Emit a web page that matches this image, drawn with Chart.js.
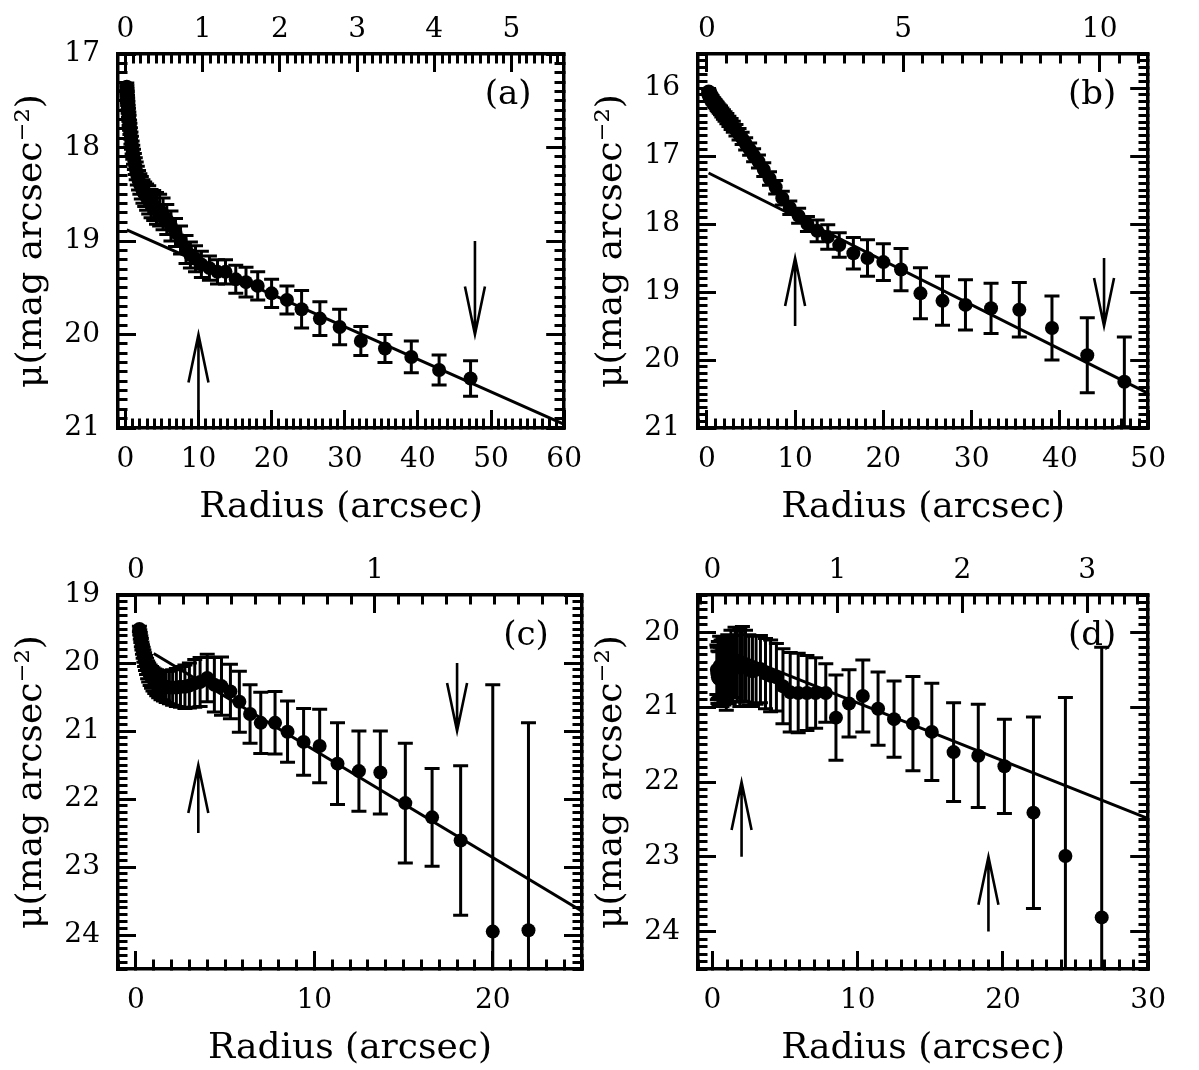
<!DOCTYPE html>
<html>
<head>
<meta charset="utf-8">
<script src="https://cdn.jsdelivr.net/npm/chart.js@4.4.0/dist/chart.umd.min.js"></script>
<style>
  body { margin: 0; background: #fff; width: 1199px; height: 1070px; position: relative; overflow: hidden; }
  canvas { position: absolute; }
</style>
</head>
<body>
<canvas id="pa" width="615" height="529" style="left:0;top:0"></canvas>
<canvas id="pb" width="619" height="529" style="left:580px;top:0"></canvas>
<canvas id="pc" width="615" height="529" style="left:0;top:541px"></canvas>
<canvas id="pd" width="619" height="529" style="left:580px;top:541px"></canvas>
<script>
/* ── panel (a) ── */
const aRadius = [0.2, 0.22, 0.24, 0.27, 0.3, 0.32, 0.36, 0.39, 0.43, 0.48, 0.52, 0.58, 0.63, 0.7, 0.77,
  0.84, 0.93, 1.02, 1.12, 1.24, 1.36, 1.49, 1.64, 1.81, 1.99, 2.19, 2.41, 2.65, 2.91, 3.2,
  3.52, 3.88, 4.26, 4.69, 5.16, 5.67, 6.24, 6.86, 7.55, 8.3, 8.9, 9.6, 10.4, 11.5, 12.6,
  13.7, 15.1, 16.5, 18.1, 20.0, 22.1, 24.1, 26.6, 29.3, 32.2, 35.5, 39.1, 42.9, 47.2];
const aMu = [17.35, 17.38, 17.41, 17.44, 17.48, 17.51, 17.55, 17.59, 17.63, 17.67, 17.71, 17.76, 17.8, 17.85, 17.9,
  17.95, 18.0, 18.05, 18.1, 18.15, 18.2, 18.25, 18.3, 18.35, 18.39, 18.43, 18.47, 18.5, 18.53, 18.56,
  18.6, 18.62, 18.65, 18.67, 18.71, 18.77, 18.84, 18.91, 18.99, 19.09, 19.15, 19.19, 19.25, 19.29, 19.33,
  19.33, 19.41, 19.44, 19.48, 19.56, 19.63, 19.73, 19.83, 19.92, 20.07, 20.15, 20.24, 20.38, 20.47];
const aErr = [0.04, 0.04, 0.04, 0.04, 0.04, 0.04, 0.045, 0.045, 0.05, 0.05, 0.055, 0.055, 0.06, 0.06, 0.065,
  0.07, 0.07, 0.075, 0.08, 0.085, 0.09, 0.095, 0.1, 0.105, 0.11, 0.12, 0.125, 0.13, 0.14, 0.15,
  0.15, 0.16, 0.17, 0.17, 0.17, 0.16, 0.16, 0.15, 0.15, 0.15, 0.14, 0.14, 0.14, 0.13, 0.13,
  0.13, 0.15, 0.16, 0.15, 0.15, 0.15, 0.2, 0.18, 0.19, 0.155, 0.15, 0.17, 0.16, 0.19];
const aFitR = [0.2, 60];
const aFitMu = [18.88, 20.96];
const aArrowR = [10, 47.8];
const aArrowFrom = [21, 19];
const aArrowTo = [20, 20];
const aRadTicks = [0, 10, 20, 30, 40, 50, 60];
const aKpcTicks = [0, 1, 2, 3, 4, 5];
const aMuTicks = [17, 18, 19, 20, 21];

/* ── panel (b) ── */
const bRadius = [0.21, 0.23, 0.25, 0.28, 0.31, 0.34, 0.37, 0.41, 0.45, 0.49, 0.54, 0.6, 0.66, 0.72, 0.8,
  0.88, 0.96, 1.06, 1.17, 1.28, 1.41, 1.55, 1.7, 1.88, 2.06, 2.27, 2.5, 2.75, 3.0, 3.3,
  3.65, 4.0, 4.4, 4.85, 5.3, 5.85, 6.45, 7.1, 7.8, 8.55, 9.4, 10.4, 11.4, 12.5, 13.7,
  15.0, 16.6, 18.2, 20.0, 22.0, 24.2, 26.7, 29.3, 32.2, 35.4, 39.1, 43.1, 47.3];
const bMu = [16.05, 16.06, 16.07, 16.08, 16.09, 16.1, 16.11, 16.12, 16.13, 16.14, 16.15, 16.16, 16.18, 16.19, 16.2,
  16.22, 16.23, 16.25, 16.27, 16.29, 16.31, 16.33, 16.36, 16.39, 16.42, 16.45, 16.49, 16.53, 16.57, 16.62,
  16.68, 16.74, 16.82, 16.9, 16.99, 17.08, 17.2, 17.33, 17.46, 17.62, 17.76, 17.88, 18.0, 18.1, 18.19,
  18.31, 18.43, 18.5, 18.56, 18.67, 19.02, 19.13, 19.19, 19.24, 19.26, 19.53, 19.93, 20.32];
const bErr = [0.03, 0.03, 0.03, 0.03, 0.03, 0.03, 0.035, 0.035, 0.04, 0.04, 0.04, 0.045, 0.045, 0.05, 0.05,
  0.05, 0.055, 0.055, 0.06, 0.06, 0.06, 0.065, 0.065, 0.07, 0.07, 0.075, 0.075, 0.08, 0.08, 0.085,
  0.085, 0.09, 0.09, 0.09, 0.095, 0.095, 0.1, 0.1, 0.1, 0.1, 0.1, 0.11, 0.11, 0.16, 0.18,
  0.18, 0.23, 0.27, 0.27, 0.31, 0.375, 0.36, 0.37, 0.37, 0.4, 0.47, 0.55, 0.66];
const bFitR = [0.2, 50];
const bFitMu = [17.25, 20.49];
const bArrowR = [10, 45];
const bArrowFrom = [19.5, 18.5];
const bArrowTo = [18.5, 19.5];
const bRadTicks = [0, 10, 20, 30, 40, 50];
const bKpcTicks = [0, 5, 10];
const bMuTicks = [16, 17, 18, 19, 20, 21];

/* ── panel (c) ── */
const cRadius = [0.2, 0.22, 0.25, 0.28, 0.31, 0.34, 0.37, 0.41, 0.45, 0.49, 0.54, 0.6, 0.66, 0.72, 0.8,
  0.88, 0.96, 1.06, 1.17, 1.28, 1.41, 1.55, 1.7, 1.88, 2.06, 2.27, 2.5, 2.75, 3.0, 3.3,
  3.6, 4.0, 4.4, 4.8, 5.3, 5.8, 6.4, 7.0, 7.8, 8.5, 9.4, 10.3, 11.3, 12.5, 13.7,
  15.1, 16.6, 18.2, 20.0, 22.0];
const cMu = [19.5, 19.55, 19.6, 19.65, 19.7, 19.75, 19.8, 19.85, 19.9, 19.95, 20.0, 20.05, 20.1, 20.14, 20.18,
  20.21, 20.24, 20.27, 20.29, 20.31, 20.33, 20.34, 20.35, 20.36, 20.36, 20.36, 20.35, 20.35, 20.33, 20.3,
  20.28, 20.22, 20.32, 20.34, 20.42, 20.57, 20.75, 20.88, 20.88, 21.01, 21.16, 21.22, 21.48, 21.59, 21.61,
  22.06, 22.27, 22.61, 23.95, 23.93];
const cErr = [0.04, 0.04, 0.05, 0.05, 0.06, 0.06, 0.07, 0.08, 0.09, 0.1, 0.11, 0.12, 0.13, 0.14, 0.15,
  0.16, 0.17, 0.18, 0.19, 0.2, 0.21, 0.22, 0.23, 0.24, 0.26, 0.28, 0.3, 0.32, 0.33, 0.35,
  0.36, 0.35, 0.4, 0.43, 0.4, 0.45, 0.43, 0.45, 0.46, 0.45, 0.49, 0.54, 0.6, 0.59, 0.61,
  0.88, 0.72, 1.1, 3.63, 3.05];
const cFitR = [1.0, 25];
const cFitMu = [19.86, 23.65];
const cArrowR = [3.5, 18];
const cArrowFrom = [22.5, 20.0];
const cArrowTo = [21.5, 21.0];
const cRadTicks = [0, 10, 20];
const cKpcTicks = [0, 1];
const cMuTicks = [19, 20, 21, 22, 23, 24];

/* ── panel (d) ── */
const dRadius = [0.3, 0.33, 0.37, 0.4, 0.44, 0.49, 0.54, 0.59, 0.65, 0.72, 0.79, 0.87, 0.95, 1.05, 1.15,
  1.27, 1.4, 1.55, 1.7, 1.88, 2.06, 2.27, 2.5, 2.75, 3.0, 3.3, 3.65, 4.0, 4.4, 4.85,
  5.35, 5.9, 6.5, 7.1, 7.8, 8.5, 9.4, 10.35, 11.4, 12.5, 13.8, 15.1, 16.6, 18.3, 20.1,
  22.1, 24.3, 26.8];
const dMu = [20.5, 20.55, 20.6, 20.5, 20.62, 20.45, 20.58, 20.5, 20.62, 20.48, 20.55, 20.5, 20.6, 20.45, 20.5,
  20.42, 20.48, 20.4, 20.45, 20.47, 20.42, 20.45, 20.5, 20.52, 20.5, 20.49, 20.55, 20.58, 20.6, 20.72,
  20.8, 20.81, 20.81, 20.81, 20.81, 21.14, 20.95, 20.85, 21.02, 21.16, 21.22, 21.33, 21.6, 21.65, 21.79,
  22.41, 22.99, 23.81];
const dErr = [0.33, 0.35, 0.35, 0.38, 0.36, 0.4, 0.38, 0.4, 0.37, 0.4, 0.42, 0.4, 0.44, 0.42, 0.45,
  0.45, 0.44, 0.47, 0.48, 0.52, 0.5, 0.48, 0.47, 0.47, 0.46, 0.45, 0.47, 0.48, 0.45, 0.5,
  0.53, 0.53, 0.5, 0.47, 0.39, 0.57, 0.45, 0.48, 0.49, 0.51, 0.63, 0.65, 0.66, 0.69, 0.63,
  1.28, 2.12, 3.61];
const dFitR = [0, 30];
const dFitMu = [20.17, 22.49];
const dArrowR = [2, 19];
const dArrowFrom = [23, 24];
const dArrowTo = [22, 23];
const dRadTicks = [0, 10, 20, 30];
const dKpcTicks = [0, 1, 2, 3];
const dMuTicks = [20, 21, 22, 23, 24];

const FONT = '"DejaVu Serif", serif';
const Y_TITLE = 'μ(mag arcsec⁻²)';
const X_TITLE = 'Radius (arcsec)';

/* ===================== TICKS: majors + minor subdivisions ===================== */
function tickList(majors, step, min, max) {
  const out = majors.filter(v => v >= min - 1e-9 && v <= max + 1e-9).map(v => ({ value: v, major: true }));
  for (let k = Math.ceil(min / step - 1e-9); k * step <= max + 1e-9; k++) {
    const v = +(k * step).toFixed(6);
    if (!majors.some(m => Math.abs(m - v) < 1e-6)) out.push({ value: v, major: false });
  }
  return out.sort((p, q) => p.value - q.value);
}

// ticks point inward (negative length); minor ticks are cut short with a dash pattern
function frameAxis(pos, min, max, ticks, size, extra) {
  const fromFrame = pos === 'bottom' || pos === 'right';
  const ax = {
    type: 'linear',
    position: pos,
    min, max,
    reverse: !!extra.reverse,
    afterBuildTicks: s => { s.ticks = ticks.map(t => ({ ...t })); },
    afterFit: s => { if (pos === 'left' || pos === 'right') s.width = size; else s.height = size; },
    border: { display: true, color: '#000', width: 3.5 },
    grid: {
      display: true,
      drawOnChartArea: false,
      drawTicks: true,
      tickLength: -18,
      tickWidth: 3,
      tickColor: '#000',
      tickBorderDash: c => (c.tick && c.tick.major) ? [] : (fromFrame ? [11, 100] : [0, 8.5, 12, 100])
    },
    ticks: {
      display: !!extra.labels,
      autoSkip: false,
      maxRotation: 0,
      minRotation: 0,
      padding: extra.pad || 0,
      color: '#000',
      font: { family: FONT, size: 28 },
      callback: (v, i, t) => t[i].major ? String(v) : ''
    },
    title: { display: false }
  };
  if (extra.title) {
    ax.title = {
      display: true, text: extra.title, color: '#000',
      font: { family: FONT, size: 36 },
      padding: extra.titlePad
    };
  }
  return ax;
}

/* ===================== ERROR BARS, ARROWS, PANEL TAG ===================== */
function panelMarks(p) {
  return {
    id: 'panelMarks',
    beforeDatasetsDraw(chart) {
      const { ctx, chartArea: ca, scales: { x, y } } = chart;
      ctx.save();
      ctx.beginPath();
      ctx.rect(ca.left, ca.top, ca.right - ca.left, ca.bottom - ca.top);
      ctx.clip();
      ctx.strokeStyle = '#000';
      ctx.lineWidth = 3;
      p.radius.forEach((r, i) => {
        const px = x.getPixelForValue(r);
        const top = y.getPixelForValue(p.mu[i] - p.err[i]);
        const bot = y.getPixelForValue(p.mu[i] + p.err[i]);
        ctx.beginPath();
        ctx.moveTo(px, top); ctx.lineTo(px, bot);
        ctx.moveTo(px - 7.5, top); ctx.lineTo(px + 7.5, top);
        ctx.moveTo(px - 7.5, bot); ctx.lineTo(px + 7.5, bot);
        ctx.stroke();
      });
      ctx.restore();
    },
    afterDatasetsDraw(chart) {
      const { ctx, chartArea: ca, scales: { x, y } } = chart;
      ctx.save();
      ctx.strokeStyle = '#000';
      ctx.lineWidth = 2.6;
      p.arrowR.forEach((r, i) => {
        const px = x.getPixelForValue(r);
        const y0 = y.getPixelForValue(p.arrowFrom[i]);
        const y1 = y.getPixelForValue(p.arrowTo[i]);
        const dir = Math.sign(y1 - y0);
        ctx.beginPath();
        ctx.moveTo(px, y0); ctx.lineTo(px, y1);
        ctx.moveTo(px - 10, y1 - dir * 48); ctx.lineTo(px, y1); ctx.lineTo(px + 10, y1 - dir * 48);
        ctx.stroke();
      });
      ctx.fillStyle = '#000';
      ctx.font = '34px ' + FONT;
      ctx.textAlign = 'center';
      ctx.textBaseline = 'middle';
      ctx.fillText(p.tag, ca.right - 56, ca.top + 41);
      ctx.restore();
    }
  };
}

const panels = [
  { id: 'pa', tag: '(a)', radius: aRadius, mu: aMu, err: aErr, fitR: aFitR, fitMu: aFitMu,
    arrowR: aArrowR, arrowFrom: aArrowFrom, arrowTo: aArrowTo,
    radTicks: aRadTicks, kpcTicks: aKpcTicks, muTicks: aMuTicks,
    xMin: -1, xMax: 60, yMin: 17, yMax: 21, kpc: 10.56, kpcStep: 0.1, rightW: 29 },
  { id: 'pb', tag: '(b)', radius: bRadius, mu: bMu, err: bErr, fitR: bFitR, fitMu: bFitMu,
    arrowR: bArrowR, arrowFrom: bArrowFrom, arrowTo: bArrowTo,
    radTicks: bRadTicks, kpcTicks: bKpcTicks, muTicks: bMuTicks,
    xMin: -1, xMax: 50, yMin: 15.5, yMax: 21, kpc: 4.45, kpcStep: 0.5, rightW: 35 },
  { id: 'pc', tag: '(c)', radius: cRadius, mu: cMu, err: cErr, fitR: cFitR, fitMu: cFitMu,
    arrowR: cArrowR, arrowFrom: cArrowFrom, arrowTo: cArrowTo,
    radTicks: cRadTicks, kpcTicks: cKpcTicks, muTicks: cMuTicks,
    xMin: -1, xMax: 25, yMin: 19, yMax: 24.5, kpc: 13.4, kpcStep: 0.1, rightW: 29 },
  { id: 'pd', tag: '(d)', radius: dRadius, mu: dMu, err: dErr, fitR: dFitR, fitMu: dFitMu,
    arrowR: dArrowR, arrowFrom: dArrowFrom, arrowTo: dArrowTo,
    radTicks: dRadTicks, kpcTicks: dKpcTicks, muTicks: dMuTicks,
    xMin: -1, xMax: 30, yMin: 19.5, yMax: 24.5, kpc: 8.6, kpcStep: 0.1, rightW: 35 }
];

panels.forEach(p => {
  const radTickList = tickList(p.radTicks, 1, p.xMin, p.xMax);
  const kMin = p.xMin / p.kpc, kMax = p.xMax / p.kpc;
  const kpcTickList = tickList(p.kpcTicks, p.kpcStep, kMin, kMax);
  const muTickList = tickList(p.muTicks, 0.1, p.yMin, p.yMax);

  new Chart(document.getElementById(p.id), {
    type: 'scatter',
    data: {
      datasets: [
        {
          data: p.radius.map((r, i) => ({ x: r, y: p.mu[i] })),
          pointRadius: 7,
          pointHoverRadius: 7,
          pointBackgroundColor: '#000',
          pointBorderWidth: 0,
          xAxisID: 'x', yAxisID: 'y'
        },
        {
          type: 'line',
          data: p.fitR.map((r, i) => ({ x: r, y: p.fitMu[i] })),
          borderColor: '#000',
          borderWidth: 3,
          pointRadius: 0,
          showLine: true,
          fill: false,
          xAxisID: 'x', yAxisID: 'y'
        }
      ]
    },
    options: {
      responsive: false,
      animation: false,
      devicePixelRatio: 1,
      events: [],
      layout: { padding: 0 },
      plugins: { legend: { display: false }, tooltip: { enabled: false } },
      scales: {
        x: frameAxis('bottom', p.xMin, p.xMax, radTickList, 101,
          { labels: true, pad: 33, title: X_TITLE, titlePad: { top: 0, bottom: 0 } }),
        x2: frameAxis('top', kMin, kMax, kpcTickList, 54, { labels: true, pad: 25 }),
        y: frameAxis('left', p.yMin, p.yMax, muTickList, 118,
          { labels: true, pad: 36, reverse: true, title: Y_TITLE, titlePad: { top: 10, bottom: 0 } }),
        y2: frameAxis('right', p.yMin, p.yMax, muTickList, p.rightW, { reverse: true })
      }
    },
    plugins: [panelMarks(p)]
  });
});
</script>
</body>
</html>
